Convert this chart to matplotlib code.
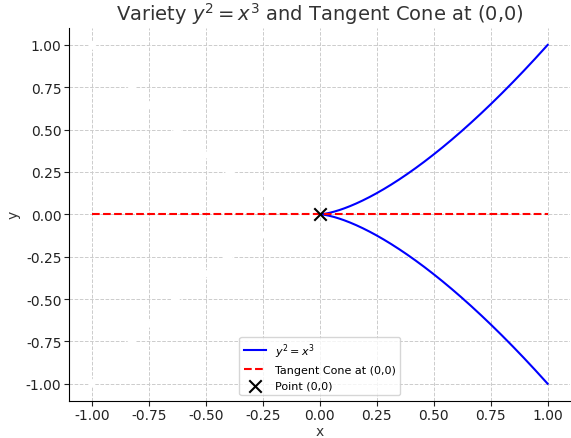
import numpy as np
import matplotlib
matplotlib.use('Agg')
import matplotlib.pyplot as plt

# 曲线 y^2 = x^3 （只在 x >= 0 有实数解）
x_curve = np.linspace(0, 1, 400)
y_upper = np.sqrt(x_curve ** 3)
y_lower = -y_upper

# 切锥 y = 0
x_cone = [-1, 1]
y_cone = [0, 0]

# 奇点
point_x = [0]
point_y = [0]

xticks = [-1.00, -0.75, -0.50, -0.25, 0.00, 0.25, 0.50, 0.75, 1.00]
yticks = [-1.00, -0.75, -0.50, -0.25, 0.00, 0.25, 0.50, 0.75, 1.00]

fig, ax = plt.subplots(figsize=(5.71, 4.39), dpi=100)

# 左边白色的镜像曲线（原图里盖住了网格线）
x_ghost = np.linspace(-1, 0, 200)
ax.plot(x_ghost, np.sqrt((-x_ghost) ** 3), color='white', lw=4, zorder=1.5)
ax.plot(x_ghost, -np.sqrt((-x_ghost) ** 3), color='white', lw=4, zorder=1.5)

ax.plot(x_curve, y_upper, color='blue', lw=1.5, label=r'$y^2 = x^3$', zorder=2)
ax.plot(x_curve, y_lower, color='blue', lw=1.5, zorder=2)
ax.plot(x_cone, y_cone, color='red', ls='--', lw=1.5, label='Tangent Cone at (0,0)', zorder=2)
ax.scatter(point_x, point_y, color='black', marker='x', s=80, label='Point (0,0)', zorder=3)

ax.set_xlim(-1.1, 1.1)
ax.set_ylim(-1.1, 1.1)
ax.set_xticks(xticks)
ax.set_yticks(yticks)
ax.xaxis.set_major_formatter(matplotlib.ticker.FormatStrFormatter('%.2f'))
ax.yaxis.set_major_formatter(matplotlib.ticker.FormatStrFormatter('%.2f'))
ax.tick_params(labelsize=10, colors='#222222', pad=2)
ax.grid(True, ls='--', color='#cccccc', lw=0.7)
ax.set_axisbelow(True)
for s in ['top', 'right']:
    ax.spines[s].set_visible(False)

ax.set_title(r'Variety $y^2 = x^3$ and Tangent Cone at (0,0)', fontsize=14, color='#333333')
ax.set_xlabel('x', fontsize=10, color='#333333', labelpad=1)
ax.set_ylabel('y', fontsize=10, color='#333333')
ax.legend(loc='lower center', fontsize=8)

plt.subplots_adjust(left=0.121, right=0.999, top=0.934, bottom=0.085)
plt.savefig('out.png')
